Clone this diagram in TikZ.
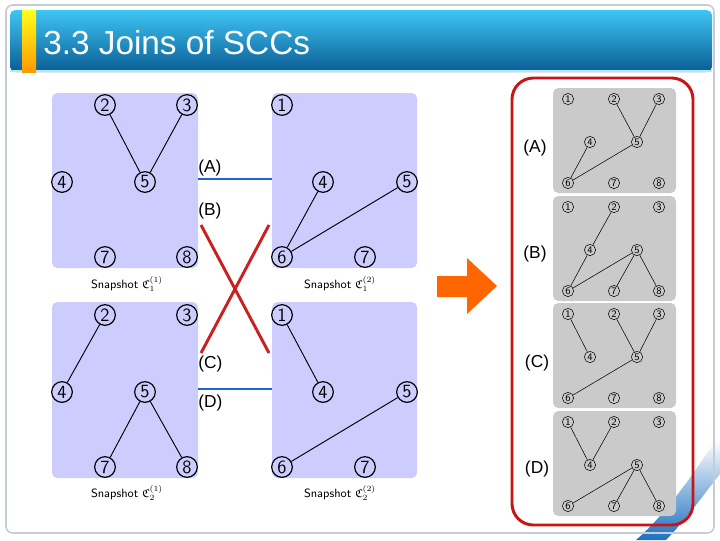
\documentclass[tikz,border=0pt]{standalone}
\usepackage{fontspec}
\usepackage{amssymb}
\usepackage{tikz}
\newfontfamily\arial{Liberation Sans}
\definecolor{lavande}{HTML}{CCCCFF}
\definecolor{grisfond}{HTML}{CACACA}
\definecolor{bleulien}{HTML}{1F66CC}
\definecolor{rougelien}{HTML}{CC2020}
\definecolor{rougecadre}{HTML}{C81414}
\definecolor{orangefl}{HTML}{FF6600}
\definecolor{bandeauhaut}{HTML}{3EC6F4}
\definecolor{bandeaumilieu}{HTML}{1A8ACB}
\definecolor{bandeaubas}{HTML}{0A5C94}
\definecolor{cadre}{HTML}{C4CCD6}
\definecolor{vague}{HTML}{1E70C0}
\tikzset{
  sommet/.style={circle, draw, line width=0.9pt, inner sep=0pt, minimum size=15.5pt,
    font=\sffamily\fontsize{14}{14}\selectfont},
  petit/.style={circle, draw, line width=0.4pt, inner sep=0pt, minimum size=8.5pt,
    font=\sffamily\fontsize{7.5}{7.5}\selectfont},
  arete/.style={line width=0.7pt},
  fine/.style={line width=0.4pt},
  panneau/.style={fill=lavande, rounded corners=4pt},
  grille/.style={fill=grisfond, rounded corners=4pt},
  lienbleu/.style={line width=2.2pt, color=bleulien},
  lienrouge/.style={line width=2.2pt, color=rougelien},
  etiquette/.style={font=\arial\fontsize{13}{13}\selectfont, inner sep=0pt},
  legende/.style={font=\sffamily\fontsize{9}{9}\selectfont, inner sep=0pt},
  titre/.style={font=\arial\fontsize{25}{25}\selectfont, text=white, inner sep=0pt}
}

\begin{document}
\begin{tikzpicture}[x=0.75pt, y=-0.75pt]
    \useasboundingbox (0,0) rectangle (720,540);
    \fill[white] (0,0) rectangle (720,540);

    % Cadre et bandeau
    \shade[top color=white, bottom color=vague] (716,440) .. controls (692,475) and (668,512) .. (636,540)
      -- (666,540) .. controls (688,517) and (704,494) .. (720,474) -- (720,440) -- cycle;
    \draw[cadre, line width=1.2pt, rounded corners=5pt] (6,5) rectangle (714,533);
    \shade[top color=bandeauhaut, middle color=bandeaumilieu, bottom color=bandeaubas,
      rounded corners=4pt] (10,10) rectangle (712,72);
    \fill[bandeauhaut!40!white] (10,70) rectangle (712,72);
    \shade[top color=yellow!90!white, bottom color=orange!80!yellow] (22,10) rectangle (36,72);
    \node[titre, anchor=west] (titre) at (43,43) {3.3 Joins of SCCs};

    % Snapshots
    \fill[panneau] (52,93) rectangle (198,268);
    \fill[panneau] (272,93) rectangle (417,268);
    \fill[panneau] (52,302) rectangle (198,478);
    \fill[panneau] (272,302) rectangle (417,478);

    \node[sommet] (u2) at (105,105) {2};
    \node[sommet] (u3) at (187,105) {3};
    \node[sommet] (u4) at (62,182) {4};
    \node[sommet] (u5) at (145,182) {5};
    \node[sommet] (u7) at (105,257) {7};
    \node[sommet] (u8) at (187,257) {8};
    \draw[arete] (u2) -- (u5) -- (u3);

    \node[sommet] (v1) at (282,105) {1};
    \node[sommet] (v4) at (323,182) {4};
    \node[sommet] (v5) at (407,182) {5};
    \node[sommet] (v6) at (282,257) {6};
    \node[sommet] (v7) at (365,257) {7};
    \draw[arete] (v4) -- (v6) -- (v5);

    \node[sommet] (w2) at (105,315) {2};
    \node[sommet] (w3) at (187,315) {3};
    \node[sommet] (w4) at (62,392) {4};
    \node[sommet] (w5) at (145,392) {5};
    \node[sommet] (w7) at (105,467) {7};
    \node[sommet] (w8) at (187,467) {8};
    \draw[arete] (w2) -- (w4);
    \draw[arete] (w7) -- (w5) -- (w8);

    \node[sommet] (z1) at (282,315) {1};
    \node[sommet] (z4) at (323,392) {4};
    \node[sommet] (z5) at (407,392) {5};
    \node[sommet] (z6) at (282,467) {6};
    \node[sommet] (z7) at (365,467) {7};
    \draw[arete] (z1) -- (z4);
    \draw[arete] (z6) -- (z5);

    \node[legende] (leg1) at (127,284) {Snapshot $\mathfrak{C}_1^{(1)}$};
    \node[legende] (leg2) at (340,284) {Snapshot $\mathfrak{C}_1^{(2)}$};
    \node[legende] (leg3) at (127,493) {Snapshot $\mathfrak{C}_2^{(1)}$};
    \node[legende] (leg4) at (340,493) {Snapshot $\mathfrak{C}_2^{(2)}$};

    % Jointures
    \coordinate (a1) at (198,179);
    \coordinate (a2) at (272,179);
    \coordinate (b1) at (201,225);
    \coordinate (b2) at (269,353);
    \coordinate (c1) at (201,353);
    \coordinate (c2) at (269,225);
    \coordinate (d1) at (198,389);
    \coordinate (d2) at (272,389);
    \draw[lienbleu] (a1) -- (a2);
    \draw[lienbleu] (d1) -- (d2);
    \draw[lienrouge] (b1) -- (b2);
    \draw[lienrouge] (c1) -- (c2);
    \node[etiquette, anchor=west] (labA) at (198,168) {(A)};
    \node[etiquette, anchor=west] (labB) at (198,211) {(B)};
    \node[etiquette, anchor=west] (labC) at (198,364) {(C)};
    \node[etiquette, anchor=west] (labD) at (198,403) {(D)};

    % Fleche
    \fill[orangefl] (437,276) -- (467,276) -- (467,258) -- (497,286) -- (467,314)
      -- (467,297) -- (437,297) -- cycle;

    % Resultats
    \foreach \p/\t in {A/88, B/196, C/303, D/411} {
      \fill[grille] (553,\t) rectangle (676,\t+105);
      \node[petit] (\p1) at (568,\t+11) {1};
      \node[petit] (\p2) at (614,\t+11) {2};
      \node[petit] (\p3) at (659,\t+11) {3};
      \node[petit] (\p4) at (590,\t+54) {4};
      \node[petit] (\p5) at (637,\t+54) {5};
      \node[petit] (\p6) at (568,\t+95) {6};
      \node[petit] (\p7) at (614,\t+95) {7};
      \node[petit] (\p8) at (659,\t+95) {8};
    }
    \foreach \a/\b in {A2/A5, A3/A5, A4/A6, A5/A6, B2/B4, B4/B6, B5/B6, B5/B7, B5/B8,
      C1/C4, C2/C5, C3/C5, C5/C6, D1/D4, D2/D4, D5/D6, D5/D7, D5/D8}
      \draw[fine] (\a) -- (\b);
    \node[etiquette] (etA) at (535,148) {(A)};
    \node[etiquette] (etB) at (535,254) {(B)};
    \node[etiquette] (etC) at (537,363) {(C)};
    \node[etiquette] (etD) at (537,469) {(D)};
    \draw[rougecadre, line width=2.2pt, rounded corners=16pt] (512,78) rectangle (693,525);
  \end{tikzpicture}
\end{document}
